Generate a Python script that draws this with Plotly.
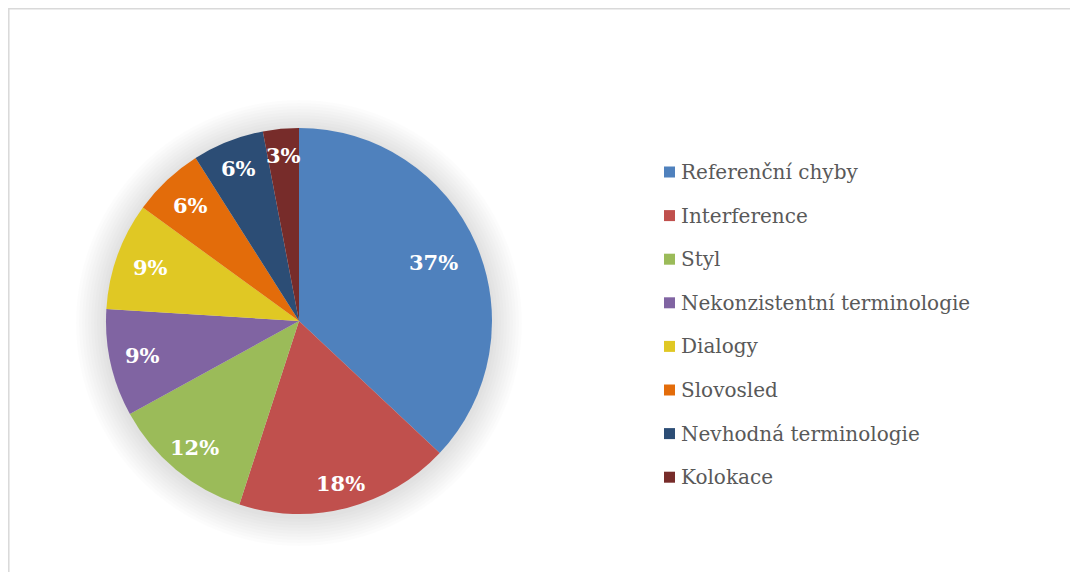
import math
import plotly.graph_objects as go

categories = ["Referenční chyby", "Interference", "Styl", "Nekonzistentní terminologie",
              "Dialogy", "Slovosled", "Nevhodná terminologie", "Kolokace"]
values = [37, 18, 12, 9, 9, 6, 6, 3]
colors = ["#4F81BD", "#C0504D", "#9BBB59", "#8064A2",
          "#E0C824", "#E36C0A", "#2C4D75", "#772C2A"]
# radial placement of the percentage labels (fraction of radius)
label_radius = [0.76, 0.87, 0.85, 0.83, 0.82, 0.82, 0.85, 0.86]

W, H = 1078, 572
OFF = 8  # page body margin
cx, cy, r = 299 - OFF, 321 - OFF, 193

def px_x(x):
    return x / W

def px_y(y):
    return 1 - y / H

fig = go.Figure()

# soft blurred shadow behind the pie
for grow in range(30, 0, -3):
    rr = r + grow
    fig.add_trace(go.Pie(
        values=[1], labels=["shadow"], sort=False, showlegend=False,
        marker=dict(colors=["rgba(0,0,0,0.012)"], line=dict(width=0)),
        textinfo="none", hoverinfo="skip",
        domain=dict(x=[px_x(cx - rr), px_x(cx + rr)], y=[px_y(cy + rr + 2), px_y(cy - rr + 2)]),
    ))

fig.add_trace(go.Pie(
    labels=categories, values=values, sort=False, direction="clockwise", rotation=0,
    marker=dict(colors=colors, line=dict(width=0)),
    textinfo="none", showlegend=False,
    domain=dict(x=[px_x(cx - r), px_x(cx + r)], y=[px_y(cy + r), px_y(cy - r)]),
))

# percentage labels at slice mid-angles
total = sum(values)
cum = 0
for v, f in zip(values, label_radius):
    mid = (cum + v / 2) / total * 2 * math.pi
    cum += v
    lx = cx + f * r * math.sin(mid)
    ly = cy - f * r * math.cos(mid)
    fig.add_annotation(x=px_x(lx), y=px_y(ly), xref="paper", yref="paper",
                       text=f"{round(v / total * 100)}%", showarrow=False,
                       xanchor="center", yanchor="middle",
                       font=dict(family="DejaVu Serif", size=21, color="white", weight="bold"))

# legend drawn as annotations + squares
leg_x, leg_y0, leg_dy = 664 - OFF, 172 - OFF, 43.6
for i, (lab, col) in enumerate(zip(categories, colors)):
    yy = leg_y0 + i * leg_dy
    fig.add_shape(type="rect", xref="paper", yref="paper",
                  x0=px_x(leg_x), x1=px_x(leg_x + 11), y0=px_y(yy + 5.5), y1=px_y(yy - 5.5),
                  fillcolor=col, line=dict(width=0))
    fig.add_annotation(x=px_x(leg_x + 15), y=px_y(yy), xref="paper", yref="paper",
                       text=lab, showarrow=False, xanchor="left", yanchor="middle",
                       font=dict(family="DejaVu Serif", size=20, color="#595959"))

# chart border
fig.add_shape(type="rect", xref="paper", yref="paper",
              x0=px_x(0.8), x1=1.02, y0=-0.02, y1=px_y(0.8),
              line=dict(color="#D9D9D9", width=1.5))

fig.update_layout(width=W, height=H, margin=dict(l=0, r=0, t=0, b=0),
                  paper_bgcolor="white", plot_bgcolor="white")
fig.write_html("out.html")
